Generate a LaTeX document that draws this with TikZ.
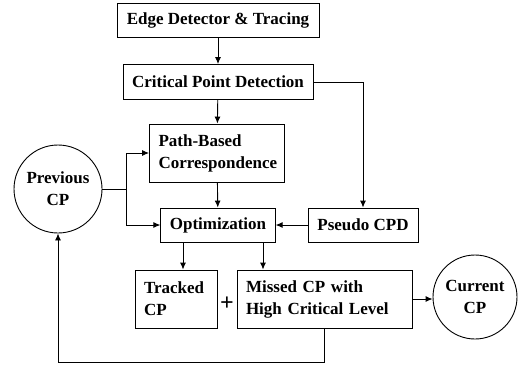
\documentclass[tikz,border=0pt]{standalone}
\usepackage{fontspec}
\setmainfont{Liberation Serif}
\usetikzlibrary{positioning,calc,arrows.meta}

\begin{document}
\begin{tikzpicture}[
  x=1pt, y=-1pt,
  >={Latex[length=7pt,width=6pt]},
  line width=0.9pt,
  every node/.style={font=\bfseries\fontsize{17}{22}\selectfont},
  block/.style={draw, inner xsep=9pt, inner ysep=2pt},
  cpcircle/.style={draw, circle, align=center, inner sep=1pt},
  ]
  \useasboundingbox (0,0) rectangle (518,365);
  \node [block, minimum width=202pt, minimum height=34pt] (edge) at (218,20) {Edge Detector \& Tracing};
  \node [block, minimum width=190pt, minimum height=35pt] (cpd) at (218,82) {Critical Point Detection};
  \node [block, text width=117pt, align=left, minimum height=58pt] (path) at (217,153) {Path-Based\\Correspondence};
  \node [block, minimum width=113pt, minimum height=34pt] (opt) at (218,225) {Optimization};
  \node [block, minimum width=110pt, minimum height=34pt] (pseudo) at (363,225) {Pseudo CPD};
  \node [block, text width=64pt, align=left, minimum height=58pt] (tracked) at (176,299) {Tracked\\CP};
  \node [block, text width=157pt, align=left, minimum height=58pt] (missed) at (324.5,299) {Missed CP with\\High Critical Level};
  \node (plus) at (227,304) {\fontsize{24}{24}\selectfont +};
  \node [cpcircle, minimum size=88pt] (prev) at (58,189) {Previous\\CP};
  \node [cpcircle, minimum size=84pt] (curr) at (475,297) {Current\\CP};
  \coordinate (split) at (126,189);

  \draw [->] (edge) -- (cpd);
  \draw [->] (cpd) -- (path);
  \draw [->] (cpd.east) -| (pseudo.north);
  \draw [->] (path) -- (opt);
  \draw [->] (pseudo) -- (opt);
  \draw (prev.east |- split) -- (split);
  \draw [->] (split) |- (path.west);
  \draw [->] (split) |- (opt.west);
  \draw [->] ([xshift=-35pt]opt.south) -- ([xshift=-35pt]opt.south |- tracked.north);
  \draw [->] ([xshift=45pt]opt.south) -- ([xshift=45pt]opt.south |- missed.north);
  \draw [->] (missed.east) -- (missed.east -| curr.west);
  \draw [->] (missed.south) -- ++(0,34) -| (prev.south);
\end{tikzpicture}
\end{document}
